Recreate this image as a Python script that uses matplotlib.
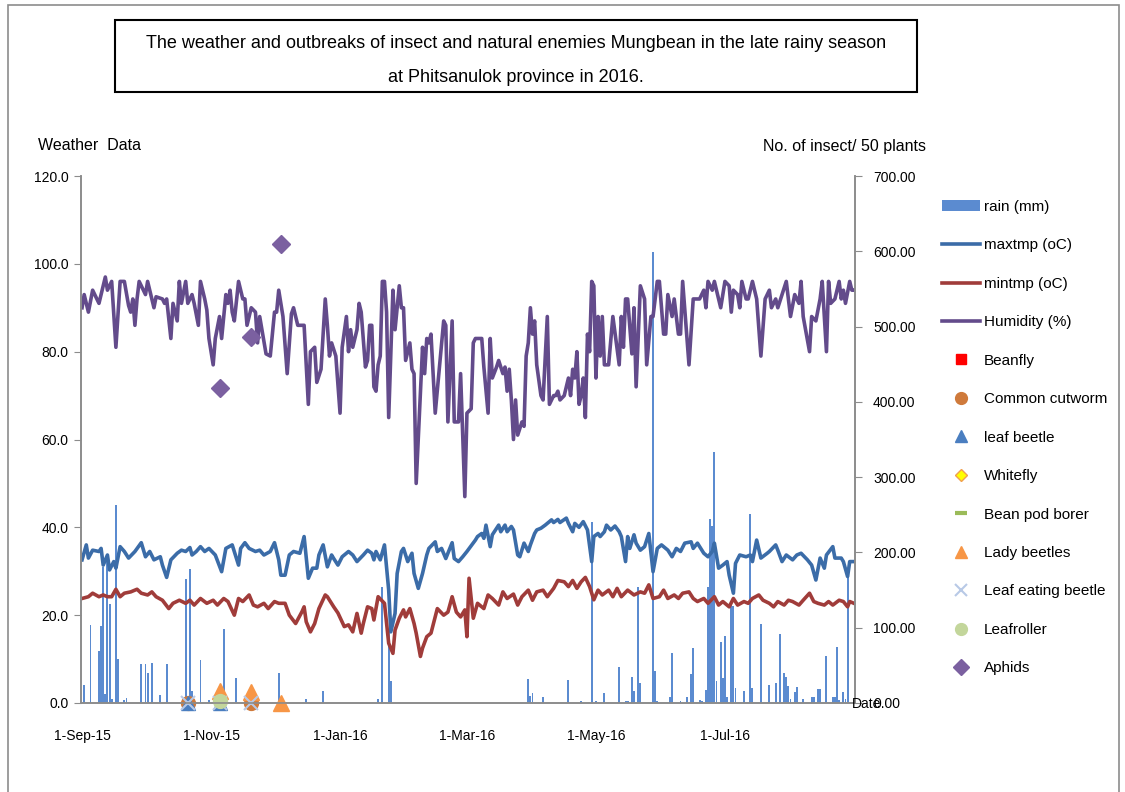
import numpy as np
import matplotlib
matplotlib.use('Agg')
import matplotlib.pyplot as plt
import matplotlib.dates as mdates
from matplotlib.patches import Rectangle

plt.rcParams['font.family'] = ['Liberation Sans', 'DejaVu Sans']

START = np.datetime64('2015-09-01')

# ---- weather data (day = days after 1-Sep-15) ----
hum_day = [0, 1, 3, 5, 8, 11, 12, 14, 16, 18, 20, 22, 23, 24, 25, 26, 27, 30, 31, 34,
           35, 38, 39, 40, 42, 43, 45, 46, 47, 49, 50, 52, 53, 55, 56, 58, 59, 60, 62, 63,
           65, 66, 68, 69, 70, 71, 72, 74, 76, 77, 78, 80, 82, 83, 84, 87, 89, 91, 92, 93,
           95, 97, 99, 100, 102, 105, 107, 108, 110, 111, 113, 115, 116, 117, 118, 120, 122, 123, 125, 126,
           127, 128, 130, 131, 132, 134, 135, 136, 137, 138, 139, 140, 141, 142, 143, 144, 145, 147, 148, 150,
           151, 152, 153, 155, 156, 157, 158, 161, 162, 163, 164, 165, 167, 171, 172, 173, 175, 176, 178, 179,
           181, 182, 184, 185, 186, 189, 190, 192, 193, 194, 196, 197, 199, 200, 201, 202, 203, 204, 205, 206,
           208, 209, 210, 211, 212, 213, 214, 215, 217, 218, 220, 221, 223, 224, 225, 226, 228, 230, 231, 232,
           233, 234, 235, 236, 237, 238, 239, 240, 241, 242, 243, 244, 245, 246, 247, 249, 251, 254, 255, 256,
           257, 258, 260, 261, 262, 264, 266, 267, 269, 270, 272, 273, 275, 276, 277, 279, 280, 282, 283, 284,
           287, 289, 292, 294, 295, 296, 298, 299, 300, 302, 304, 306, 307, 308, 310, 311, 312, 314, 315, 317,
           319, 321, 323, 325, 326, 328, 329, 331, 333, 335, 337, 339, 340, 341, 344, 345, 347, 349, 350, 352,
           353, 354, 356, 358, 359, 360, 361, 363, 364, 365]
hum_pct = [90, 93, 89, 94, 91, 97, 94, 96, 81, 96, 96, 90.5, 89, 92, 86, 92, 96, 93, 96, 90,
           92.5, 92, 91, 92, 83, 91, 87, 96, 91, 96, 91, 93, 91, 86, 96, 92, 89.5, 83, 77, 83,
           88, 83, 93, 91, 94, 89, 87, 96, 92, 92, 86, 90, 89, 82, 88, 79.5, 79, 89, 89, 94,
           88, 75, 88.6, 90, 86, 86, 68, 80, 81, 73, 76, 92, 86, 79, 82, 79, 66, 81, 88, 80,
           85, 81, 85, 91, 89, 76.5, 78, 86, 86, 72, 71, 77, 79, 96, 96, 89, 65, 94, 85, 95,
           90, 90, 78, 82, 76, 75, 50, 81, 75, 83, 82, 84, 66, 87, 86, 64, 87, 64, 64, 75,
           47, 66, 67, 82, 83, 83, 76.5, 66, 83, 74, 76.5, 78, 75, 76.5, 71, 76, 69, 60, 69, 61,
           64, 63, 79, 82, 90, 84, 87, 77, 70, 69, 88, 68, 70, 70, 71, 69, 70, 74, 70, 76,
           74, 80, 68, 70, 74, 65, 84, 80, 96, 95, 74, 88, 79, 88, 77, 77, 88, 77, 88, 81,
           92, 92, 79.5, 90, 72, 95, 92, 77, 88, 88, 96, 96, 84, 84, 93, 88, 92, 84, 84, 96,
           77, 92, 92, 94, 90, 96, 94, 96, 94, 90, 96, 95, 89, 94, 93, 90, 96, 92, 92, 96,
           92, 79, 92, 94, 90, 92, 90, 93, 96, 88, 93, 91, 96, 88, 80, 88, 87, 92, 96, 80,
           96, 91, 92, 96, 92, 94, 91, 96, 94, 94]

tmax_day = [0, 2, 3, 5, 8, 9, 10, 12, 13, 15, 16, 18, 20, 22, 25, 28, 30, 32, 34, 37,
            38, 40, 42, 45, 47, 49, 51, 52, 54, 56, 58, 60, 63, 66, 68, 71, 74, 75, 77, 79,
            82, 84, 86, 89, 91, 93, 94, 96, 98, 100, 103, 105, 107, 109, 111, 112, 114, 116, 118, 119,
            121, 123, 126, 128, 130, 133, 135, 137, 138, 139, 141, 143, 145, 146, 148, 149, 151, 152, 154, 156,
            157, 159, 161, 163, 164, 167, 168, 170, 172, 175, 176, 178, 180, 182, 186, 187, 189, 190, 191, 193,
            194, 197, 198, 200, 201, 203, 204, 206, 207, 209, 211, 212, 214, 215, 217, 219, 220, 222, 223, 225,
            226, 229, 230, 232, 233, 235, 237, 239, 241, 242, 244, 245, 247, 248, 250, 252, 254, 255, 257, 258,
            259, 261, 262, 264, 266, 268, 270, 272, 274, 277, 279, 281, 283, 285, 288, 289, 291, 294, 296, 298,
            299, 301, 303, 305, 306, 308, 309, 311, 314, 316, 317, 319, 321, 324, 325, 328, 329, 331, 333, 336,
            338, 340, 343, 345, 347, 349, 351, 352, 355, 356, 359, 360, 362, 363, 365]
tmax_c = [32.6, 36, 33, 34.8, 34.5, 35.2, 31.4, 33.7, 30.3, 32.2, 30.7, 35.6, 34.5, 33, 34.5, 36.5, 33.3, 34.5, 32.6, 33.3,
          31.4, 28.6, 32.6, 34.1, 34.8, 34.5, 35.4, 33.7, 34.5, 35.6, 34.5, 35.2, 33.7, 29.9, 35.2, 36, 31.4, 35.2, 36.5, 35.2,
          34.5, 34.8, 33.7, 34.5, 36.5, 32.6, 29.1, 29.1, 33.7, 34.5, 34.1, 37.9, 28.4, 30.7, 30.7, 33.7, 36, 31, 33.7, 32.9,
          31.4, 33.3, 34.5, 33.7, 32.2, 33.7, 34.8, 34.1, 32.6, 34.5, 32.6, 36, 25.7, 16.2, 20.4, 29.5, 34.5, 35.2, 32.2, 34.1,
          29.5, 26.1, 29.5, 33.7, 35.2, 36.7, 34.5, 35.2, 32.9, 36.5, 32.9, 32.2, 33.3, 34.5, 37.1, 37.9, 38.6, 37.5, 40.5, 35.6,
          38.3, 40.5, 39, 40.5, 39, 40.2, 39.4, 33.7, 33.3, 36.4, 34.5, 36, 38.6, 39.4, 39.8, 40.5, 40.9, 41.7, 41.1, 41.8,
          41.1, 42.1, 40.9, 39, 40.9, 40, 41.3, 39.4, 32.2, 37.9, 38.6, 37.9, 39, 40.5, 39.4, 40.3, 39, 37.9, 32.2, 37.9,
          35.2, 38.3, 36.4, 34.8, 35.6, 38.6, 29.9, 35.2, 36, 34.8, 33.3, 35.2, 34.5, 36.4, 36.7, 35.2, 36.4, 34.1, 33.3, 34.5,
          36.4, 30.7, 31.4, 32.2, 29.1, 25, 31.8, 33.7, 33.3, 33.7, 32.2, 37.1, 33, 34.1, 34.5, 36, 34.8, 32.2, 33.7, 32.6,
          33.7, 34.1, 32.6, 31.4, 28, 33, 30.7, 33.7, 35.6, 33, 33, 32.2, 28.8, 32.2, 32.2]

tmin_day = [0, 3, 5, 8, 10, 12, 14, 16, 18, 20, 23, 26, 28, 31, 33, 35, 38, 41, 43, 46,
            49, 51, 53, 56, 59, 62, 64, 67, 69, 72, 74, 76, 79, 81, 83, 86, 88, 91, 93, 96,
            98, 101, 104, 105, 106, 108, 110, 112, 115, 116, 119, 121, 124, 126, 128, 130, 132, 133, 135, 137,
            138, 140, 143, 145, 147, 148, 150, 152, 153, 155, 157, 158, 160, 161, 163, 165, 167, 168, 171, 173,
            175, 177, 179, 181, 182, 183, 185, 187, 190, 192, 194, 197, 199, 201, 204, 206, 208, 211, 213, 215,
            218, 220, 223, 225, 228, 230, 232, 234, 236, 238, 240, 242, 244, 246, 249, 251, 253, 255, 258, 261,
            264, 266, 268, 270, 273, 275, 277, 280, 282, 284, 287, 289, 291, 294, 296, 299, 301, 303, 306, 308,
            310, 313, 315, 317, 320, 322, 325, 327, 329, 332, 334, 336, 339, 341, 344, 346, 348, 351, 353, 355,
            358, 360, 362, 363, 365]
tmin_c = [23.8, 24.2, 25, 24.2, 24.6, 24.2, 24.2, 25.9, 24.2, 25, 25.3, 25.9, 25, 24.6, 25.3, 24.2, 23.4, 21.5, 22.7, 23.4,
          22.7, 23.4, 22.3, 23.8, 22.7, 23.4, 22.3, 23.8, 23.1, 20, 23.8, 23.1, 24.6, 22.3, 21.9, 22.7, 21.5, 23.1, 22.7, 22.7,
          20, 18.1, 20.8, 21.9, 18.5, 16.2, 18.1, 21.5, 24.6, 24.2, 21.9, 20.5, 17.4, 17.8, 16.2, 20.4, 15.9, 18.1, 21.9, 21.5,
          18.9, 24.2, 22.7, 13.6, 11.3, 16.6, 19.3, 21.2, 19.6, 21.5, 18.1, 15.9, 10.6, 12.5, 15.1, 15.9, 19.6, 21.5, 20, 20.7,
          24.2, 20.7, 19.6, 21.2, 15.1, 28.4, 19.3, 22.7, 21.5, 24.6, 23.8, 22.3, 25.3, 23.8, 24.8, 22.3, 24.2, 25.7, 23.4, 25.3,
          25.7, 24.2, 26.1, 27.9, 27.6, 26.5, 27.9, 26.1, 27.6, 28.6, 26.5, 23.5, 25.7, 24.6, 25.7, 24.2, 26.1, 24.2, 25.7, 24.6,
          25.3, 25, 26.9, 23.8, 24.2, 25.7, 23.8, 24.6, 23.8, 25, 25.3, 23.8, 23.1, 23.8, 22.7, 24.2, 22.3, 23.1, 21.9, 23.8,
          22.3, 23.1, 22.7, 23.8, 24.6, 23.4, 22.7, 21.9, 23.1, 22.3, 23.4, 23.1, 22.3, 23.4, 25, 23.1, 22.7, 22.3, 23.1, 22.3,
          23.4, 23.1, 21.9, 23.1, 22.7]

rain_day = [1, 4, 8, 9, 10, 11, 12, 13, 14, 16, 17, 20, 21, 28, 30, 31, 33, 37, 40, 49,
            51, 52, 56, 60, 67, 73, 93, 106, 114, 140, 142, 145, 146, 211, 212, 213, 218, 230, 236, 241,
            243, 247, 254, 257, 258, 260, 261, 263, 264, 270, 271, 272, 278, 279, 283, 286, 288, 289, 292, 293,
            295, 296, 297, 298, 299, 300, 302, 303, 304, 305, 307, 308, 309, 313, 316, 317, 321, 325, 328, 330,
            332, 333, 334, 335, 337, 338, 341, 345, 346, 348, 349, 352, 355, 356, 357, 358, 360, 361, 362]
rain_mm = [4.2, 17.8, 11.8, 17.6, 30.9, 2, 33.9, 22.5, 0.9, 45, 10, 0.7, 1.1, 8.9, 8.9, 6.8, 9.1, 1.9, 8.9, 28.2,
           30.5, 2.8, 9.8, 0.7, 16.9, 5.8, 6.8, 0.9, 2.8, 0.9, 26.3, 16.9, 4.9, 5.5, 1.7, 2.2, 1.3, 5.2, 0.5, 41.2,
           0.4, 2.2, 8.1, 0.5, 0.4, 6, 2.7, 26.3, 4.6, 102.8, 7.4, 0.4, 1.3, 11.4, 0.5, 1.3, 6.5, 12.5, 0.7, 0.4,
           3, 26.3, 41.9, 40.4, 57.2, 4.9, 13.8, 5.8, 15.3, 1.4, 22.5, 22.2, 3.4, 2.8, 43, 3.4, 18, 4.2, 4.6, 15.6,
           6.8, 6, 3.9, 0.9, 2.4, 3.7, 0.9, 1.4, 1.3, 3.2, 3.2, 10.6, 1.3, 1.3, 12.8, 0.7, 2.4, 0.9, 30]

# ---- insect counts per 50 plants (right axis) ----
survey_dates = ['2015-10-21', '2015-11-05', '2015-11-20', '2015-12-04']
nan = np.nan
beanfly = [nan, nan, nan, nan]
cutworm = [0, nan, 0, nan]
leaf_beetle = [0, 0, nan, nan]
whitefly = [nan, nan, nan, nan]
pod_borer = [nan, nan, nan, nan]
lady_beetles = [nan, 16, 15, 0]
leaf_eating = [0, 0, 0, nan]
leafroller = [nan, 2, nan, nan]
aphids = [nan, 418, 486, 610]

tick_dates = ['2015-09-01', '2015-11-01', '2016-01-01', '2016-03-01', '2016-05-01', '2016-07-01']
tick_labels = ['1-Sep-15', '1-Nov-15', '1-Jan-16', '1-Mar-16', '1-May-16', '1-Jul-16']


def to_dates(days):
    return START + np.array(days).astype('timedelta64[D]')


W, H = 1125, 792
fig = plt.figure(figsize=(W / 100, H / 100), dpi=100)

# outer frame and title box
fig.patches.append(Rectangle((8 / W, -0.05), 1111 / W, 1.05 - 5 / H, transform=fig.transFigure,
                             fill=False, edgecolor='#8c8c8c', linewidth=1.2))
fig.patches.append(Rectangle((115 / W, 1 - 92 / H), 802 / W, 72 / H, transform=fig.transFigure,
                             fill=False, edgecolor='black', linewidth=1.5))
fig.text(516 / W, 1 - 44 / H,
         'The weather and outbreaks of insect and natural enemies Mungbean in the late rainy season',
         ha='center', va='center', fontsize=13)
fig.text(516 / W, 1 - 77 / H, 'at Phitsanulok province in 2016.', ha='center', va='center', fontsize=13)

ax = fig.add_axes([81 / W, 1 - 703 / H, 774 / W, 527 / H])
ax2 = ax.twinx()

gray = '#8c8c8c'
bars = ax.bar(to_dates(rain_day), rain_mm, width=0.9, color='#5b8bd0', linewidth=0, zorder=1)
l_max, = ax.plot(to_dates(tmax_day), tmax_c, color='#3b6ca8', lw=2.6, zorder=2)
l_min, = ax.plot(to_dates(tmin_day), tmin_c, color='#a03c3a', lw=2.6, zorder=2)
l_hum, = ax.plot(to_dates(hum_day), hum_pct, color='#634b8b', lw=2.6, zorder=2)

sd = np.array(survey_dates, dtype='datetime64[D]')
kw = dict(ls='none', clip_on=False)
ax2.plot(sd, beanfly, marker='s', ms=8, color='#ff0000', label='Beanfly', **kw)
ax2.plot(sd, cutworm, marker='o', ms=10, color='#cf7a3b', label='Common cutworm', **kw)
ax2.plot(sd, leaf_beetle, marker='^', ms=10, color='#4a7ec0', label='leaf beetle', **kw)
ax2.plot(sd, whitefly, marker='D', ms=7, mfc='#ffff00', mec='#f0a050', label='Whitefly', **kw)
ax2.plot(sd, pod_borer, marker='_', ms=10, mew=3, color='#9bbb59', label='Bean pod borer', **kw)
ax2.plot(sd, lady_beetles, marker='^', ms=11, color='#f79646', label='Lady beetles', **kw)
ax2.plot(sd, leaf_eating, marker='x', ms=10, mew=1.5, color='#b8c9e6', label='Leaf eating beetle', **kw)
ax2.plot(sd, leafroller, marker='o', ms=10, color='#c3d69b', label='Leafroller', **kw)
ax2.plot(sd, aphids, marker='D', ms=9, color='#7b60a0', label='Aphids', **kw)

x0 = mdates.date2num(START)
ax.set_xlim(x0 - 0.5, x0 + 365.5)
ax.set_ylim(0, 120)
ax2.set_ylim(0, 700)
ax.set_yticks(np.arange(0, 121, 20))
ax.set_yticklabels([f'{v:.1f}' for v in np.arange(0, 121, 20)])
ax2.set_yticks(np.arange(0, 701, 100))
ax2.set_yticklabels([f'{v:.2f}' for v in np.arange(0, 701, 100)])
ax.set_xticks(np.array(tick_dates, dtype='datetime64[D]'))
ax.set_xticklabels(tick_labels)

for a in (ax, ax2):
    a.spines['top'].set_visible(False)
    for s in ('left', 'right', 'bottom'):
        a.spines[s].set_color(gray)
        a.spines[s].set_linewidth(1.2)
ax.tick_params(axis='y', direction='out', length=5, color=gray, labelsize=10, pad=4)
ax2.tick_params(axis='y', direction='out', length=5, color=gray, labelsize=10, pad=8)
ax.tick_params(axis='x', length=0, labelsize=10, pad=19)

fig.text(38 / W, 1 - 145 / H, 'Weather  Data', va='center', ha='left', fontsize=11.5)
fig.text(926 / W, 1 - 146 / H, 'No. of insect/ 50 plants', va='center', ha='right', fontsize=11.5)
fig.text(852 / W, 1 - 704 / H, 'Date', va='center', ha='left', fontsize=10)

h2, l2 = ax2.get_legend_handles_labels()
handles = [bars, l_max, l_min, l_hum] + h2
labels = ['rain (mm)', 'maxtmp (oC)', 'mintmp (oC)', 'Humidity (%)'] + l2
fig.legend(handles, labels, loc='upper left', bbox_to_anchor=(942 / W, 1 - 200 / H),
           frameon=False, fontsize=11, borderpad=0, borderaxespad=0, handlelength=2.5,
           handletextpad=0.25, labelspacing=1.6, markerscale=0.85)

fig.savefig('out.png', dpi=100)
